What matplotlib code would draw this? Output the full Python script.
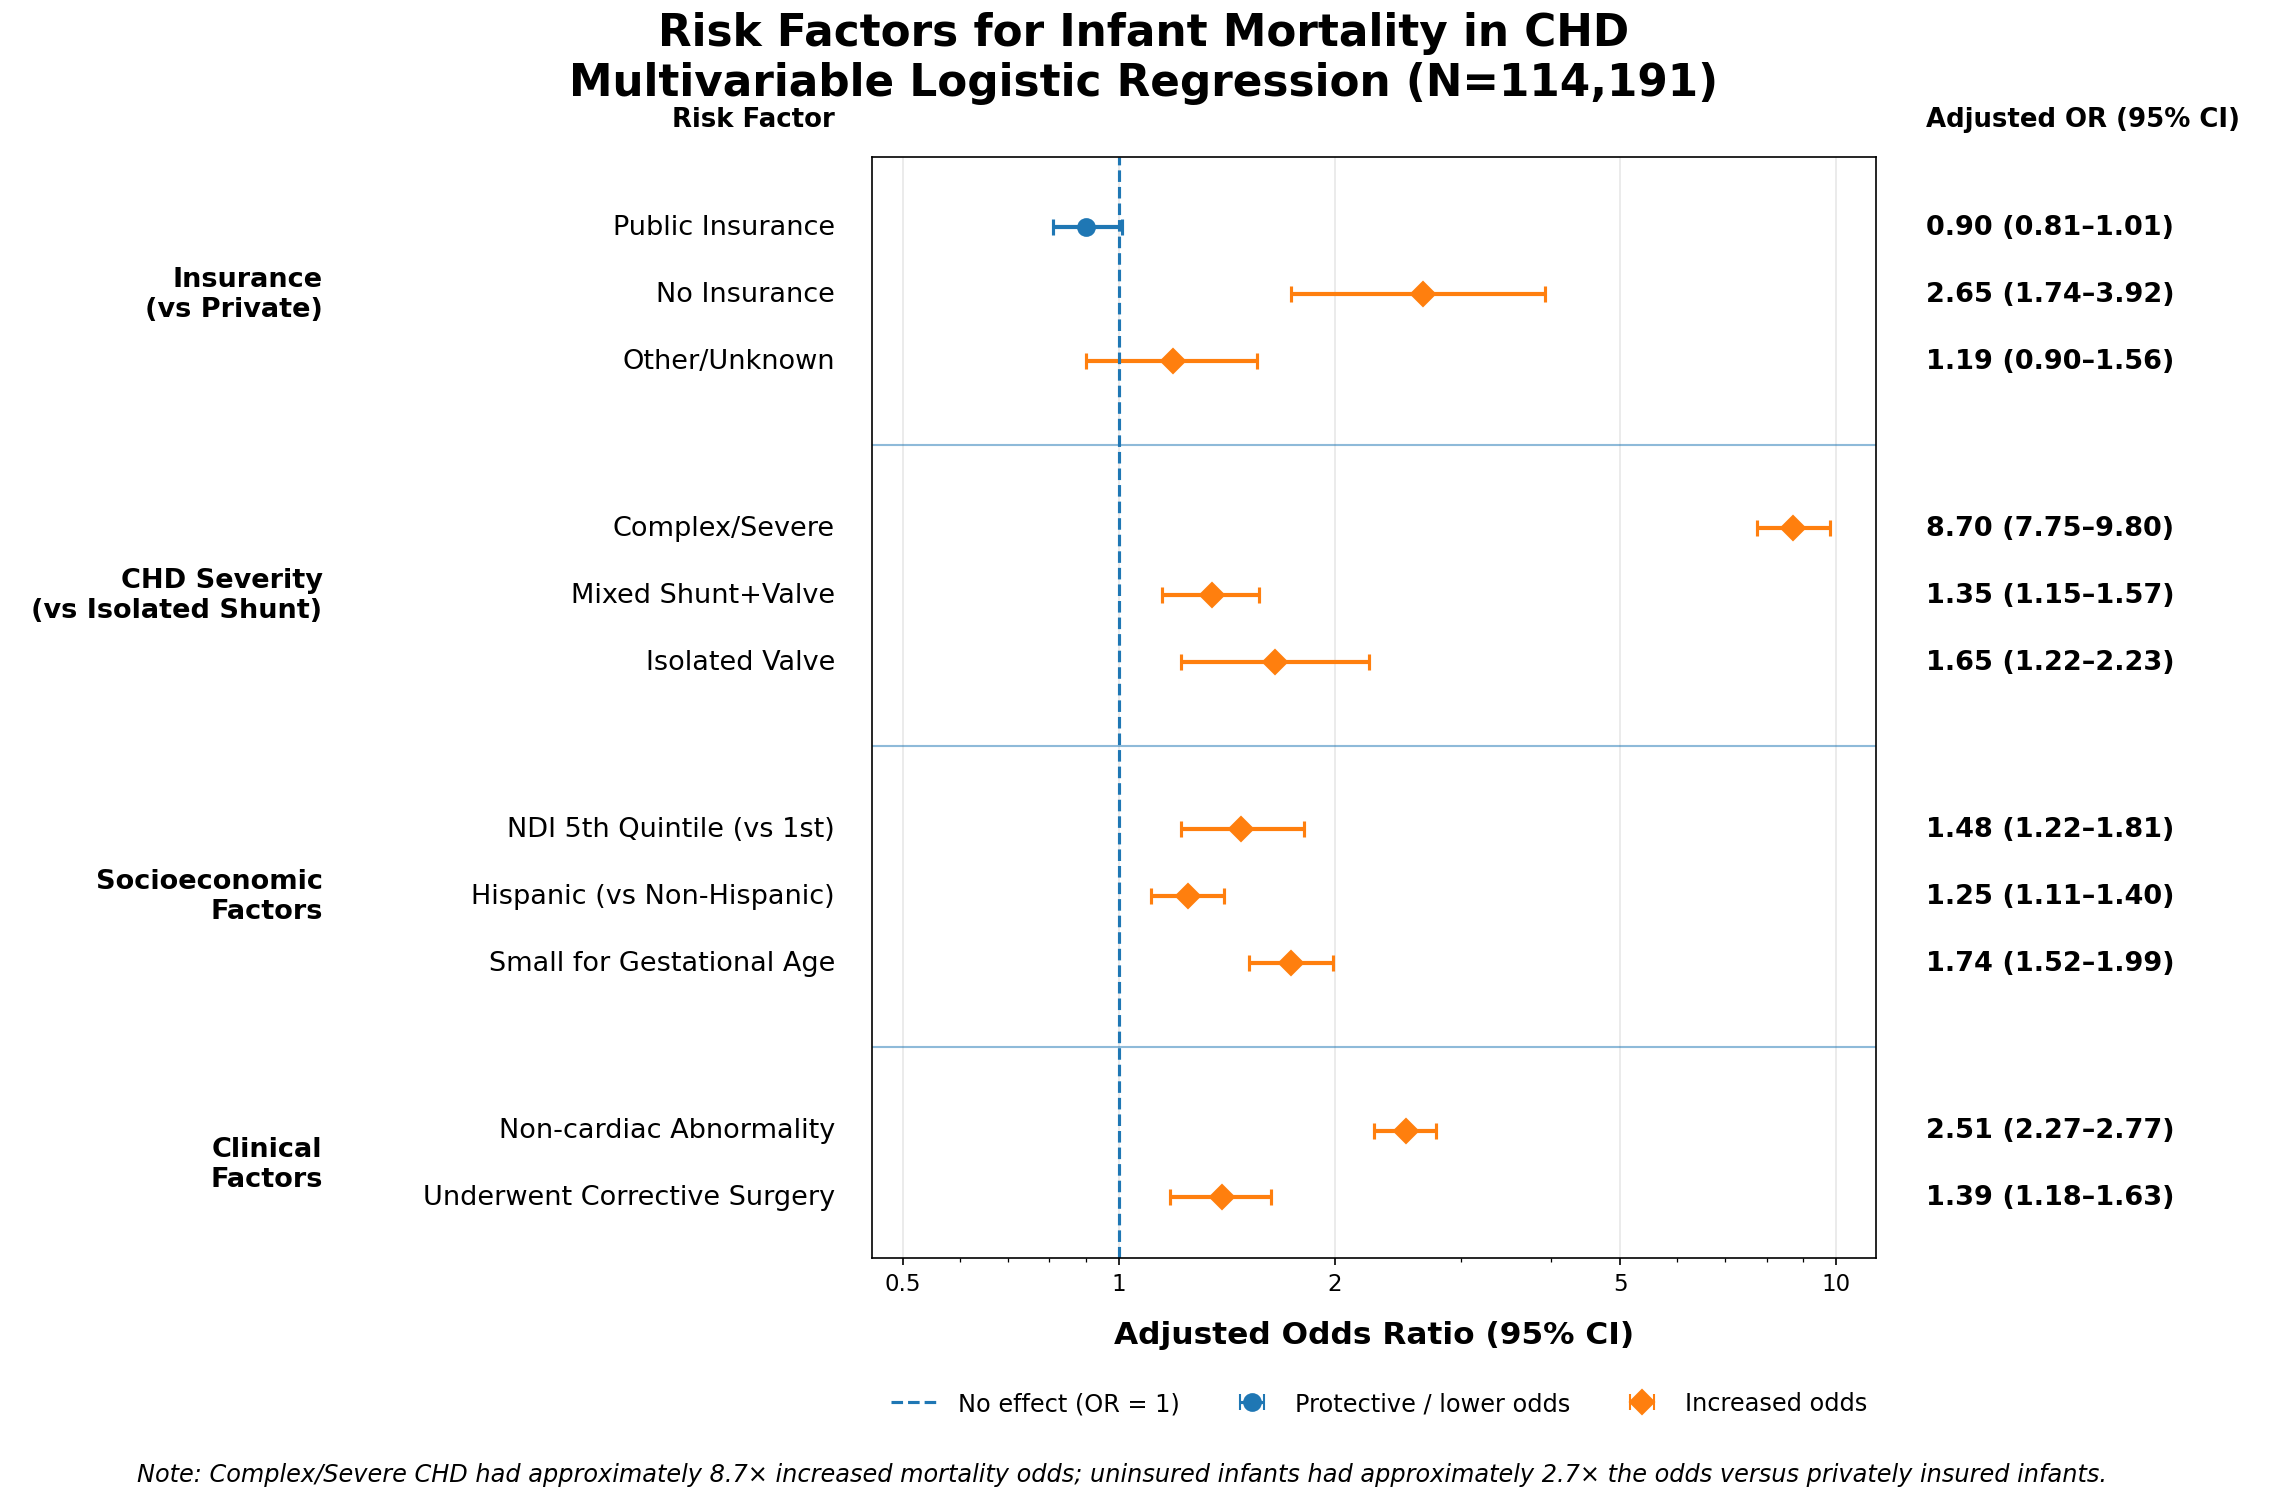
import numpy as np
import matplotlib.pyplot as plt
from matplotlib.lines import Line2D
from matplotlib.ticker import FixedLocator, NullFormatter

LABELS = ['Public Insurance', 'No Insurance', 'Other/Unknown',
          'Complex/Severe', 'Mixed Shunt+Valve', 'Isolated Valve',
          'NDI 5th Quintile (vs 1st)', 'Hispanic (vs Non-Hispanic)', 'Small for Gestational Age',
          'Non-cardiac Abnormality', 'Underwent Corrective Surgery']
OR = [0.90, 2.65, 1.19, 8.70, 1.35, 1.65, 1.48, 1.25, 1.74, 2.51, 1.39]
LO = [0.81, 1.74, 0.90, 7.75, 1.15, 1.22, 1.22, 1.11, 1.52, 2.27, 1.18]
HI = [1.01, 3.92, 1.56, 9.80, 1.57, 2.23, 1.81, 1.40, 1.99, 2.77, 1.63]
GROUPS = ['Insurance\n(vs Private)', 'CHD Severity\n(vs Isolated Shunt)',
          'Socioeconomic\nFactors', 'Clinical\nFactors']
GROUP_SIZES = [3, 3, 3, 2]
TICKS = [0.5, 1, 2, 5, 10]


def main():
    # row positions with gaps between groups
    ys, group_mid, seps = [], [], []
    y = 0.0
    for gi, n in enumerate(GROUP_SIZES):
        rows = [y + k for k in range(n)]
        ys += rows
        group_mid.append(np.mean(rows))
        y = rows[-1] + 1
        if gi < len(GROUP_SIZES) - 1:
            seps.append(y + 0.25)
            y += 1.5

    fig = plt.figure(figsize=(15.25, 10.013), dpi=150)
    ax = fig.add_axes([0.381, 0.162, 0.439, 0.733])
    ax.set_xscale('log')
    ax.set_xlim(0.452, 11.35)
    ax.set_ylim(15.4, -1.05)

    for i in range(len(OR)):
        protective = HI[i] < 1.05 and OR[i] < 1
        col = '#1f77b4' if protective else '#ff7f0e'
        mk = 'o' if protective else 'D'
        ax.errorbar(OR[i], ys[i], xerr=[[OR[i] - LO[i]], [HI[i] - OR[i]]],
                    fmt=mk, color=col, ms=8, capsize=4, elinewidth=2, capthick=1.5)
        yf = ax.transData.transform((1, ys[i]))[1] / fig.bbox.height
        fig.text(0.365, yf, LABELS[i], ha='right', va='center', fontsize=13)
        fig.text(0.842, yf, f'{OR[i]:.2f} ({LO[i]:.2f}\u2013{HI[i]:.2f})',
                 ha='left', va='center', fontsize=13, fontweight='bold')
    for g, m in zip(GROUPS, group_mid):
        fig.text(0.141, ax.transData.transform((1, m))[1] / fig.bbox.height,
                 g, ha='right', va='center', fontsize=13, fontweight='bold')
    for s in seps:
        ax.axhline(s, color='#1f77b4', lw=1, alpha=0.5)
    ax.axvline(1, color='#1f77b4', ls='--', lw=1.5)

    ax.xaxis.set_major_locator(FixedLocator(TICKS))
    ax.set_xticklabels([str(t) for t in TICKS], fontsize=11)
    ax.xaxis.set_minor_formatter(NullFormatter())
    ax.grid(axis='x', which='major', color='#e8e8e8', lw=0.8)
    ax.set_axisbelow(True)
    ax.set_yticks([])
    ax.set_xlabel('Adjusted Odds Ratio (95% CI)', fontsize=15, fontweight='bold', labelpad=12)

    fig.text(0.365, 0.92, 'Risk Factor', ha='right', va='center', fontsize=12.5, fontweight='bold')
    fig.text(0.842, 0.92, 'Adjusted OR (95% CI)', ha='left', va='center', fontsize=12.5, fontweight='bold')
    fig.suptitle('Risk Factors for Infant Mortality in CHD\nMultivariable Logistic Regression (N=114,191)',
                 fontsize=21, fontweight='bold', y=0.992)

    handles = [Line2D([], [], color='#1f77b4', ls='--', lw=1.5),
               ax.errorbar([1], [-5], xerr=[0.1], fmt='o', color='#1f77b4', ms=8, capsize=4),
               ax.errorbar([1], [-5], xerr=[0.1], fmt='D', color='#ff7f0e', ms=8, capsize=4)]
    fig.legend(handles, ['No effect (OR = 1)', 'Protective / lower odds', 'Increased odds'],
               loc='center', bbox_to_anchor=(0.603, 0.065), ncol=3, frameon=False, fontsize=11.5)
    fig.text(0.06, 0.018, 'Note: Complex/Severe CHD had approximately 8.7\u00d7 increased mortality odds; '
             'uninsured infants had approximately 2.7\u00d7 the odds versus privately insured infants.',
             ha='left', va='center', fontsize=11.5, style='italic')
    fig.savefig('out.png')


if __name__ == '__main__':
    main()
